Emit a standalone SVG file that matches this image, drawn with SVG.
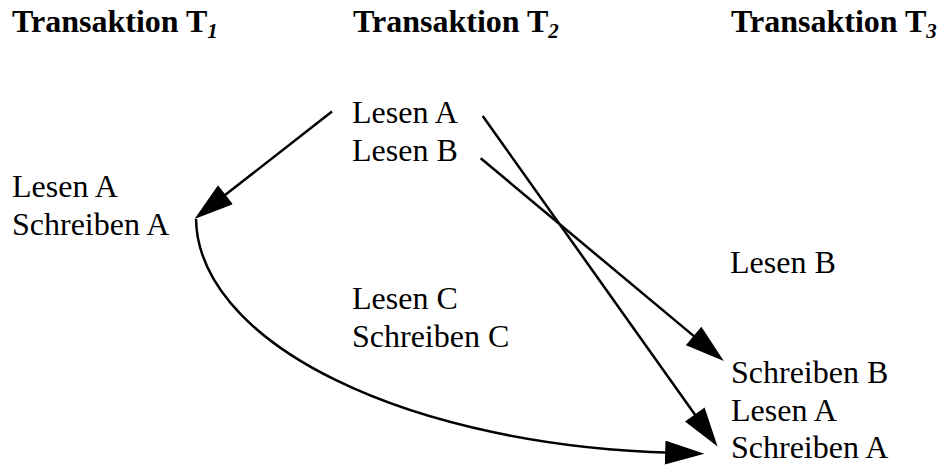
<svg xmlns="http://www.w3.org/2000/svg" width="946" height="469" viewBox="0 0 946 469">
<style>
text{font-family:"Times New Roman",Times,"Liberation Serif",Tinos,"DejaVu Serif",serif;fill:#000}
.h{font-size:32px;font-weight:bold}
.sub{font-size:21px;font-style:italic}
.t{font-size:32px}
.c{fill:none;stroke:#000;stroke-width:2.5}
</style>
<defs>
<marker id="ah" markerUnits="userSpaceOnUse" markerWidth="40" markerHeight="24" viewBox="0 0 36 22" refX="6" refY="11" orient="auto">
<path d="M0,0 L36,11 L0,22 Z" fill="#000"/>
</marker>
</defs>
<rect width="946" height="469" fill="#fff"/>
<g id="header-t1"><text class="h" x="12" y="32">Transaktion T<tspan class="sub" dy="6">1</tspan></text></g>
<g id="header-t2"><text class="h" x="353" y="32">Transaktion T<tspan class="sub" dy="6">2</tspan></text></g>
<g id="header-t3"><text class="h" x="731" y="32">Transaktion T<tspan class="sub" dy="6">3</tspan></text></g>
<g id="t1-ops"><text class="t" x="12" y="197">Lesen A</text><text class="t" x="12" y="235">Schreiben A</text></g>
<g id="t2-ops1"><text class="t" x="352" y="123">Lesen A</text><text class="t" x="352" y="161">Lesen B</text></g>
<g id="t2-ops2"><text class="t" x="352" y="309">Lesen C</text><text class="t" x="352" y="347">Schreiben C</text></g>
<g id="t3-ops1"><text class="t" x="730" y="273">Lesen B</text></g>
<g id="t3-ops2"><text class="t" x="731" y="383">Schreiben B</text><text class="t" x="731" y="421">Lesen A</text><text class="t" x="731" y="458">Schreiben A</text></g>
<g id="connectors">
<path class="c" d="M332,111.5 L220.3,198.8" marker-end="url(#ah)"/>
<path class="c" d="M196,219 A505.7,236 0 0 0 671.7,452.8" marker-end="url(#ah)"/>
<path class="c" d="M482.7,116 L698.6,419.8" marker-end="url(#ah)"/>
<path class="c" d="M480.7,158.3 L698.7,340.1" marker-end="url(#ah)"/>
</g>
</svg>
